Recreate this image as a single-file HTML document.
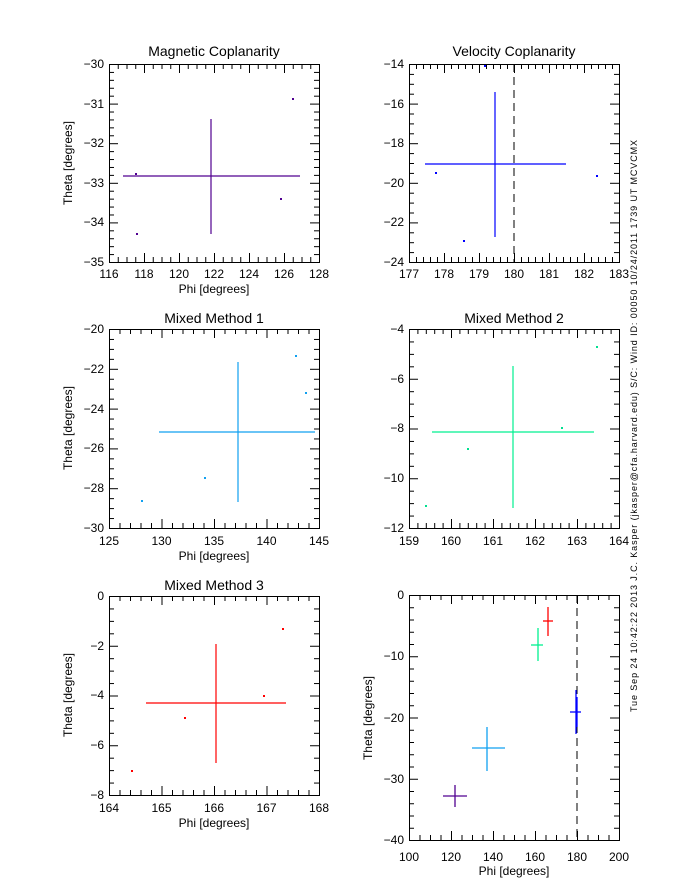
<!DOCTYPE html>
<html><head><meta charset="utf-8"><style>
body{margin:0;background:#fff}
svg{display:block}
text{font-family:"Liberation Sans",sans-serif;fill:#000}
.t{font-size:14px;text-anchor:middle}
.xl{font-size:12px;text-anchor:middle}
.yl{font-size:12px;text-anchor:end}
</style></head><body>
<svg id="s" width="680" height="880" xmlns="http://www.w3.org/2000/svg">
<g id="ticks" stroke="#000" stroke-width="1" fill="none"></g>
<!-- Panel 1 -->
<text class="t" x="214" y="56">Magnetic Coplanarity</text>
<text class="xl" x="109" y="278">116</text><text class="xl" x="144" y="278">118</text><text class="xl" x="179" y="278">120</text><text class="xl" x="214" y="278">122</text><text class="xl" x="249" y="278">124</text><text class="xl" x="284" y="278">126</text><text class="xl" x="319" y="278">128</text>
<text class="yl" x="104" y="68">−30</text><text class="yl" x="104" y="108">−31</text><text class="yl" x="104" y="147">−32</text><text class="yl" x="104" y="187">−33</text><text class="yl" x="104" y="226">−34</text><text class="yl" x="104" y="266">−35</text>
<text class="xl" x="214" y="293">Phi [degrees]</text>
<text class="xl" transform="translate(72,163) rotate(-90)">Theta [degrees]</text>
<g stroke="#500090" stroke-width="1.2"><line x1="123" y1="176" x2="300" y2="176"/><line x1="211" y1="119" x2="211" y2="234"/></g>
<g fill="#500090"><rect x="135" y="173" width="2" height="2"/><rect x="136" y="233" width="2" height="2"/><rect x="280" y="198" width="2" height="2"/><rect x="292" y="98" width="2" height="2"/></g>

<!-- Panel 2 -->
<text class="t" x="514" y="56">Velocity Coplanarity</text>
<text class="xl" x="409" y="278">177</text><text class="xl" x="444" y="278">178</text><text class="xl" x="479" y="278">179</text><text class="xl" x="514" y="278">180</text><text class="xl" x="549" y="278">181</text><text class="xl" x="584" y="278">182</text><text class="xl" x="619" y="278">183</text>
<text class="yl" x="404" y="68">−14</text><text class="yl" x="404" y="108">−16</text><text class="yl" x="404" y="147">−18</text><text class="yl" x="404" y="187">−20</text><text class="yl" x="404" y="226">−22</text><text class="yl" x="404" y="266">−24</text>
<line x1="514" y1="64" x2="514" y2="262" stroke="#000" stroke-dasharray="8,5"/>
<line x1="425" y1="164" x2="566" y2="164" stroke="#0000ff" stroke-width="1.2"/>
<line x1="495" y1="92" x2="495" y2="237" stroke="#0000ff" stroke-width="1.2"/>
<g fill="#0000ff"><rect x="435" y="172" width="2" height="2"/><rect x="463" y="240" width="2" height="2"/><rect x="484" y="65" width="2" height="2"/><rect x="596" y="175" width="2" height="2"/></g>

<!-- Panel 3 -->
<text class="t" x="214" y="323">Mixed Method 1</text>
<text class="xl" x="109" y="545">125</text><text class="xl" x="161.5" y="545">130</text><text class="xl" x="214" y="545">135</text><text class="xl" x="266.5" y="545">140</text><text class="xl" x="319" y="545">145</text>
<text class="yl" x="104" y="333">−20</text><text class="yl" x="104" y="373">−22</text><text class="yl" x="104" y="413">−24</text><text class="yl" x="104" y="452">−26</text><text class="yl" x="104" y="492">−28</text><text class="yl" x="104" y="532">−30</text>
<text class="xl" x="214" y="560">Phi [degrees]</text>
<text class="xl" transform="translate(72,428) rotate(-90)">Theta [degrees]</text>
<line x1="159" y1="432" x2="315" y2="432" stroke="#10a0f0" stroke-width="1.2"/>
<line x1="238" y1="362" x2="238" y2="502" stroke="#10a0f0" stroke-width="1.2"/>
<g fill="#10a0f0"><rect x="141" y="500" width="2" height="2"/><rect x="204" y="477" width="2" height="2"/><rect x="295" y="355" width="2" height="2"/><rect x="305" y="392" width="2" height="2"/></g>

<!-- Panel 4 -->
<text class="t" x="514" y="323">Mixed Method 2</text>
<text class="xl" x="409" y="545">159</text><text class="xl" x="451" y="545">160</text><text class="xl" x="493" y="545">161</text><text class="xl" x="535" y="545">162</text><text class="xl" x="577" y="545">163</text><text class="xl" x="619" y="545">164</text>
<text class="yl" x="404" y="333">−4</text><text class="yl" x="404" y="383">−6</text><text class="yl" x="404" y="432">−8</text><text class="yl" x="404" y="482">−10</text><text class="yl" x="404" y="532">−12</text>
<line x1="432" y1="432" x2="594" y2="432" stroke="#00f090" stroke-width="1.2"/>
<line x1="513" y1="366" x2="513" y2="508" stroke="#00f090" stroke-width="1.2"/>
<g fill="#00e090"><rect x="425" y="505" width="2" height="2"/><rect x="467" y="448" width="2" height="2"/><rect x="561" y="427" width="2" height="2"/><rect x="596" y="346" width="2" height="2"/></g>

<!-- Panel 5 -->
<text class="t" x="214" y="590">Mixed Method 3</text>
<text class="xl" x="109" y="812">164</text><text class="xl" x="161.5" y="812">165</text><text class="xl" x="214" y="812">166</text><text class="xl" x="266.5" y="812">167</text><text class="xl" x="319" y="812">168</text>
<text class="yl" x="104" y="600">0</text><text class="yl" x="104" y="650">−2</text><text class="yl" x="104" y="699">−4</text><text class="yl" x="104" y="749">−6</text><text class="yl" x="104" y="799">−8</text>
<text class="xl" x="214" y="827">Phi [degrees]</text>
<text class="xl" transform="translate(72,695) rotate(-90)">Theta [degrees]</text>
<line x1="146" y1="703" x2="286" y2="703" stroke="#ff0000" stroke-width="1.2"/>
<line x1="216" y1="644" x2="216" y2="763" stroke="#ff0000" stroke-width="1.2"/>
<g fill="#f00"><rect x="131" y="770" width="2" height="2"/><rect x="184" y="717" width="2" height="2"/><rect x="263" y="695" width="2" height="2"/><rect x="282" y="628" width="2" height="2"/></g>

<!-- Panel 6 -->
<text class="xl" x="409" y="861">100</text><text class="xl" x="451" y="861">120</text><text class="xl" x="493" y="861">140</text><text class="xl" x="535" y="861">160</text><text class="xl" x="577" y="861">180</text><text class="xl" x="619" y="861">200</text>
<text class="yl" x="404" y="599">0</text><text class="yl" x="404" y="660">−10</text><text class="yl" x="404" y="722">−20</text><text class="yl" x="404" y="783">−30</text><text class="yl" x="404" y="844">−40</text>
<text class="xl" x="514" y="875">Phi [degrees]</text>
<text class="xl" transform="translate(372,718) rotate(-90)">Theta [degrees]</text>
<line x1="577" y1="595" x2="577" y2="840" stroke="#000" stroke-dasharray="8,5"/>
<g stroke-width="1.3">
<line x1="443" y1="796" x2="467" y2="796" stroke="#500090"/><line x1="455" y1="785" x2="455" y2="807" stroke="#500090"/>
<line x1="472" y1="748" x2="505" y2="748" stroke="#10a0f0"/><line x1="487" y1="727" x2="487" y2="771" stroke="#10a0f0"/>
<line x1="531" y1="645" x2="543" y2="645" stroke="#00f090"/><line x1="538" y1="628" x2="538" y2="661" stroke="#00f090"/>
<line x1="543" y1="621" x2="553" y2="621" stroke="#f00"/><line x1="548" y1="607" x2="548" y2="636" stroke="#f00"/>
<line x1="570" y1="712" x2="581" y2="712" stroke="#0000ff"/><line x1="576" y1="690" x2="576" y2="734" stroke="#0000ff"/><line x1="577" y1="697" x2="577" y2="727" stroke="#0000ff"/>
</g>

<text style="font-size:9px" transform="translate(637,712) rotate(-90)" textLength="572">Tue Sep 24 10:42:22 2013   J.C. Kasper (jkasper@cfa.harvard.edu)   S/C: Wind ID: 00050 10/24/2011   1739 UT MCVCMX</text>
</svg>
<script>
var g=document.getElementById('ticks');
function L(a,b,c,d){var l=document.createElementNS('http://www.w3.org/2000/svg','line');l.setAttribute('x1',a);l.setAttribute('y1',b);l.setAttribute('x2',c);l.setAttribute('y2',d);g.appendChild(l);}
var P=[[109,319,64,262,6,4,5,5],[409,619,64,262,6,5,5,4],[109,319,329,528,4,5,5,4],[409,619,329,528,5,5,4,4],[109,319,596,795,4,5,4,4],[409,619,595,840,5,4,4,5]];
P.forEach(function(p){
 var x0=p[0],x1=p[1],y0=p[2],y1=p[3];
 var r=document.createElementNS('http://www.w3.org/2000/svg','rect');
 r.setAttribute('x',x0+.5);r.setAttribute('y',y0+.5);r.setAttribute('width',x1-x0);r.setAttribute('height',y1-y0);g.appendChild(r);
 var n=p[4]*p[5];for(var i=0;i<=n;i++){var x=x0+.5+(x1-x0)*i/n,len=(i%p[5]==0)?9:5;L(x,y1,x,y1-len);L(x,y0,x,y0+len);}
 n=p[6]*p[7];for(i=0;i<=n;i++){var y=y0+.5+(y1-y0)*i/n,len=(i%p[7]==0)?9:5;L(x0,y,x0+len,y);L(x1,y,x1-len,y);}
});
</script>
</body></html>
